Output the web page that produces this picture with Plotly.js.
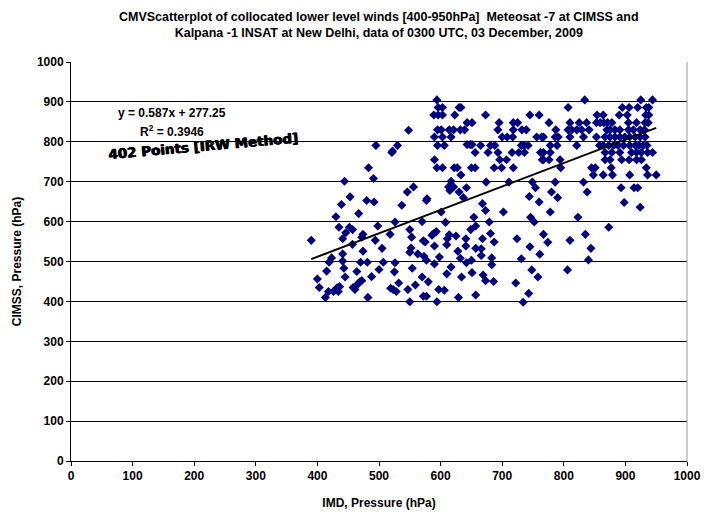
<!DOCTYPE html>
<html><head><meta charset="utf-8">
<script src="https://cdn.plot.ly/plotly-3.0.1.min.js"></script>
<style>body{margin:0;background:#fff}#c{width:704px;height:515px}</style>
</head><body><div id="c"></div>
<script>
// IMD pressure (x) and CIMSS pressure (y)
const imd = [
548,495,530,522,521,483,491,444,453,480,492,439,546,556,537,
430,467,435,446,452,457,441,498,474,472,526,518,390,457,494,550,553,570,572,552,550,563,573,505,474,441,423,419,441,470,481,507,526,443,415,464,500,525,554,570,445,488,400,469,472,466,532,403,436,458,461,519,523,528,547,559,418,426,434,432,413,482,550,572,
577,668,760,673,702,601,654,746,752,608,679,657,649,593,589,586,614,625,681,611,641,668,724,767,575,687,590,610,641,657,666,745,628,666,761,577,598,632,650,683,683,731,590,642,617,748,610,651,669,634,673,686,722,758,580,597,606,577,657,629,743,594,734,
898,924,778,823,873,835,774,810,844,840,806,
594,596,603,630,633,589,596,603,623,673,745,760,643,651,695,718,725,595,601,614,621,632,639,693,718,732,739,590,603,617,700,708,717,756,764,595,606,643,648,651,665,681,688,731,736,742,656,677,693,716,727,736,762,590,696,707,765,594,603,622,627,650,656,687,699,718,633,617,674,711,749,613,621,615,630,642,754,578,637,744,
834,925,944,807,895,906,920,934,938,854,864,890,903,933,938,776,810,825,837,853,859,865,871,878,905,918,932,937,787,807,813,821,829,841,870,875,883,891,905,913,924,931,767,786,791,810,832,853,867,875,883,891,899,907,916,924,932,778,789,821,858,864,873,881,888,897,907,916,922,929,935,767,778,867,878,891,910,918,926,936,944,767,776,794,867,875,894,906,918,926,795,845,851,877,934,848,864,879,907,936,950,786,832,893,914,920,780,838,790
];
const cimss = [
829,791,791,777,773,735,708,701,662,653,649,643,674,687,641,
612,620,586,572,586,580,557,589,568,561,599,568,553,543,553,580,561,600,552,534,523,519,513,533,526,519,509,498,501,498,498,498,497,483,476,475,480,474,483,461,461,462,456,449,452,444,446,435,437,435,430,433,430,425,430,441,425,425,425,434,410,410,399,413,
653,645,649,628,624,624,611,611,599,598,599,589,580,575,570,566,567,564,570,557,557,557,557,568,549,549,539,542,539,533,532,537,526,515,518,503,511,508,503,509,492,507,494,497,486,479,469,472,466,461,452,450,446,461,449,430,428,413,416,410,420,399,398,
648,636,624,611,586,568,548,553,533,504,479,
905,886,886,886,886,867,867,867,867,867,867,867,848,848,848,848,848,830,830,830,830,830,830,830,830,830,830,812,812,812,812,812,812,812,812,791,791,793,793,793,791,791,791,791,791,791,773,773,773,773,773,773,773,755,755,755,755,735,735,735,735,735,735,735,735,735,717,701,699,699,699,687,687,678,674,685,685,657,660,663,
905,905,905,886,886,886,886,886,886,867,867,867,867,867,867,848,848,848,848,848,848,848,848,848,848,848,848,848,830,830,830,830,830,830,830,830,830,830,830,830,830,830,812,812,812,812,812,812,812,812,812,812,812,812,812,812,812,791,791,791,791,791,791,791,791,791,791,791,791,791,791,773,773,773,773,773,773,773,773,773,773,755,755,755,755,755,755,755,755,755,735,735,735,735,735,717,717,717,717,717,717,699,699,685,685,685,674,674,660
];
// linear trend line end points
const trendX = [390, 950];
const trendY = [506, 835];
const xTicks = [0,100,200,300,400,500,600,700,800,900,1000];
const yTicks = [0,100,200,300,400,500,600,700,800,900,1000];

const F = 'Liberation Sans, Arial, sans-serif';
const data = [
  {x: imd, y: cimss, type: 'scatter', mode: 'markers',
   marker: {symbol: 'diamond', size: 7, color: '#000080'}, hoverinfo: 'x+y'},
  {x: trendX, y: trendY, type: 'scatter', mode: 'lines',
   line: {color: '#000', width: 2}}
];
const layout = {
  width: 704, height: 515, showlegend: false,
  paper_bgcolor: '#fff', plot_bgcolor: '#fff',
  margin: {l: 71, r: 17, t: 62, b: 54},
  font: {family: F, color: '#000'},
  xaxis: {range: [0, 1000], tickvals: xTicks, ticktext: xTicks.map(String),
          showgrid: false, zeroline: false, showline: true, linecolor: '#000', linewidth: 1,
          ticks: 'outside', ticklen: 4, tickcolor: '#000',
          tickfont: {family: F, size: 12, weight: 'bold'},
          title: {text: 'IMD, Pressure (hPa)', font: {family: F, size: 12, weight: 'bold'}, standoff: 16}},
  yaxis: {range: [0, 1000], tickvals: yTicks, ticktext: yTicks.map(String),
          showgrid: true, gridcolor: '#000', gridwidth: 1, zeroline: false,
          showline: true, linecolor: '#000', linewidth: 1,
          ticks: 'outside', ticklen: 4, tickcolor: '#000',
          tickfont: {family: F, size: 12, weight: 'bold'},
          title: {text: 'CIMSS, Pressure (hPa)', font: {family: F, size: 12, weight: 'bold'}, standoff: 12}},
  shapes: [{type: 'line', xref: 'paper', yref: 'paper', x0: 1, x1: 1, y0: 0, y1: 1,
            line: {color: '#999', width: 1}}],
  annotations: [
    {x: 0.5, y: 1.093, xref: 'paper', yref: 'paper', showarrow: false, yanchor: 'middle',
     text: 'CMVScatterplot of collocated lower level winds [400-950hPa]  Meteosat -7 at CIMSS and<br>Kalpana -1 INSAT at New Delhi, data of 0300 UTC, 03 December, 2009',
     font: {family: F, size: 12.5, weight: 'bold'}},
    {x: 164, y: 872, xref: 'x', yref: 'y', showarrow: false,
     text: 'y = 0.587x + 277.25', font: {family: F, size: 12, weight: 'bold'}},
    {x: 164, y: 827, xref: 'x', yref: 'y', showarrow: false,
     text: 'R<sup>2</sup> = 0.3946', font: {family: F, size: 12, weight: 'bold'}},
    {x: 214, y: 789, xref: 'x', yref: 'y', showarrow: false, textangle: -5,
     text: '402 Points [IRW Method]',
     font: {family: 'DejaVu Sans, sans-serif', size: 13.5, weight: 'bold', shadow: '0.6px 0 0 #000, -0.4px 0 0 #000'}}
  ]
};
Plotly.newPlot('c', data, layout, {displayModeBar: false, staticPlot: true});
</script>
</body></html>
